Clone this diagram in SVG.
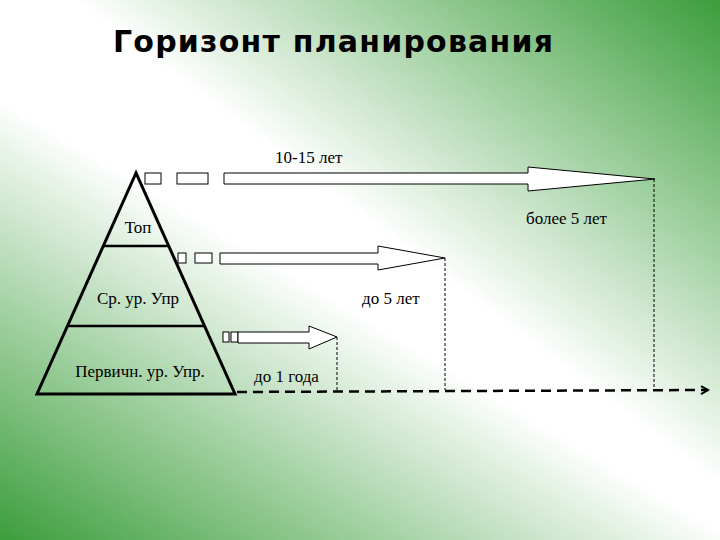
<svg xmlns="http://www.w3.org/2000/svg" width="720" height="540" viewBox="0 0 720 540">
<defs>
<linearGradient id="g1" x1="1" y1="0" x2="0.55" y2="0.45"><stop offset="0" stop-color="#3c9e3c"/><stop offset="1" stop-color="#3c9e3c" stop-opacity="0"/></linearGradient>
<linearGradient id="g2" x1="0" y1="1" x2="0.4" y2="0.5"><stop offset="0" stop-color="#3c9e3c"/><stop offset="1" stop-color="#3c9e3c" stop-opacity="0"/></linearGradient>
<marker id="ah" markerWidth="10" markerHeight="10" refX="8" refY="5" orient="auto" markerUnits="userSpaceOnUse"><path d="M1,1 L8,5 L1,9" fill="none" stroke="#000" stroke-width="2"/></marker>
<style>
.b{fill:#fff;stroke:#000;stroke-width:1}
.t{font-family:"Liberation Serif",serif;font-size:17px;fill:#000}
.d{fill:none;stroke:#000;stroke-width:1;stroke-dasharray:3,2}
</style>
</defs>
<rect width="720" height="540" fill="#fff"/>
<rect width="720" height="540" fill="url(#g1)"/>
<rect width="720" height="540" fill="url(#g2)"/>
<text x="333" y="52" text-anchor="middle" font-family="'DejaVu Sans',sans-serif" font-weight="bold" font-size="30" textLength="440">Горизонт планирования</text>
<g id="pyramid">
<path d="M136,173 L37,394 L235,394 Z" fill="none" stroke="#000" stroke-width="3"/>
<line x1="104" y1="246" x2="168" y2="246" stroke="#000" stroke-width="2.5"/>
<line x1="68" y1="326" x2="204" y2="326" stroke="#000" stroke-width="2.5"/>
<text class="t" x="138" y="233" text-anchor="middle">Топ</text>
<text class="t" x="138" y="304" text-anchor="middle">Ср. ур. Упр</text>
<text class="t" x="140" y="377" text-anchor="middle">Первичн. ур. Упр.</text>
</g>
<g id="connectors">
<line x1="237" y1="392" x2="708" y2="390" stroke="#000" stroke-width="2.5" stroke-dasharray="10,6" marker-end="url(#ah)"/>
<line class="d" x1="654" y1="179" x2="654" y2="390"/>
<line class="d" x1="445" y1="258" x2="445" y2="390"/>
<line class="d" x1="337" y1="337" x2="337" y2="391"/>
</g>
<g id="arrow-top">
<rect class="b" x="145" y="173" width="16" height="11"/>
<rect class="b" x="177" y="173" width="31" height="11"/>
<path class="b" d="M224,173 L528,173 L528,167 L655,179 L528,191 L528,184 L224,184 Z"/>
<text class="t" x="275" y="163">10-15 лет</text>
<text class="t" x="526" y="224">более 5  лет</text>
</g>
<g id="arrow-mid">
<rect class="b" x="178" y="253" width="8" height="10"/>
<rect class="b" x="195" y="253" width="17" height="10"/>
<path class="b" d="M220,253 L378,253 L378,246 L445,258 L378,270 L378,264 L220,264 Z"/>
<text class="t" x="362" y="304">до 5  лет</text>
</g>
<g id="arrow-low">
<rect class="b" x="223" y="332" width="6" height="10"/>
<rect class="b" x="231" y="332" width="7" height="10"/>
<path class="b" d="M238,332 L309,332 L309,326 L337,337 L309,349 L309,343 L238,343 Z"/>
<text class="t" x="254" y="382">до 1  года</text>
</g>
</svg>
